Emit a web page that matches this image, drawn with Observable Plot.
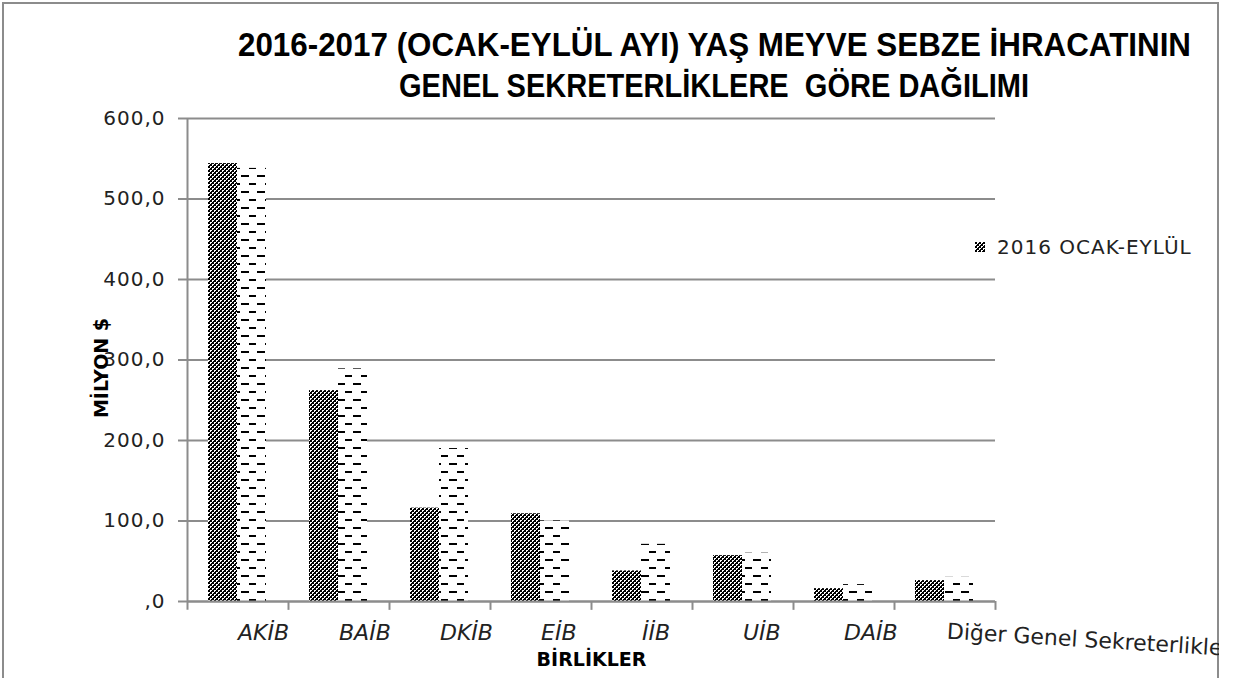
<!DOCTYPE html>
<html><head><meta charset="utf-8">
<script src="https://cdn.jsdelivr.net/npm/d3@7"></script>
<script src="https://cdn.jsdelivr.net/npm/@observablehq/plot@0.6"></script>
<style>
html,body{margin:0;padding:0;background:#fff;width:1233px;height:678px;overflow:hidden;}
#clip{position:absolute;left:0;top:0;width:1219px;height:678px;overflow:hidden;}
#border{position:absolute;left:2px;top:2px;width:1217px;height:720px;border:2px solid #8c8c8c;box-sizing:border-box;}
.title{position:absolute;left:714px;white-space:pre;font-family:"Liberation Sans Narrow","Liberation Sans",Arial,sans-serif;font-weight:bold;font-size:34px;line-height:34px;color:#000;transform-origin:0 0;}
#chart{position:absolute;left:0;top:110px;width:1233px;}
#chart svg{max-width:none !important;}
#chart g[aria-label="y-axis tick label"] text{letter-spacing:1px;}
#legend{position:absolute;left:975px;top:237px;height:20px;display:flex;align-items:center;font-family:"DejaVu Sans",sans-serif;font-size:20px;line-height:20px;letter-spacing:1px;color:#222;white-space:nowrap;}
#legend svg{margin-right:12px;}
</style></head>
<body>
<div id="clip">
  <div id="border"></div>
  <div class="title" id="t1" style="top:27px">2016-2017 (OCAK-EYLÜL AYI) YAŞ MEYVE SEBZE İHRACATININ</div>
  <div class="title" id="t2" style="top:68px">GENEL SEKRETERLİKLERE  GÖRE DAĞILIMI</div>
  <div id="chart"></div>
  <div id="legend"></div>
</div>
<script>
const categories = ["AKİB","BAİB","DKİB","EİB","İİB","UİB","DAİB","Diğer Genel Sekreterlikler"];
const values2016 = [544, 262, 116, 109, 38, 57, 16, 26];
const values2017 = [538, 289, 190, 100, 71, 60, 21, 30];
const seriesNames = ["2016 OCAK-EYLÜL", "2017 OCAK-EYLÜL"];
const yTicks = [0, 100, 200, 300, 400, 500, 600];
const yTitle = "MİLYON $";
const xTitle = "BİRLİKLER";

const data2016 = categories.map((c, i) => ({cat: c, series: seriesNames[0], value: values2016[i]}));
const data2017 = categories.map((c, i) => ({cat: c, series: seriesNames[1], value: values2017[i]}));
const yMax = yTicks[yTicks.length - 1];
const fmt = d => d === 0 ? ",0" : d.toFixed(1).replace(".", ",");
const axisColor = "#8c8c8c";
const half = 50.5;

const plot = Plot.plot({
  width: 1233,
  height: 568,
  marginLeft: 187,
  marginRight: 238,
  marginTop: 8,
  marginBottom: 77,
  style: {fontFamily: "DejaVu Sans, sans-serif", fontSize: "20px", color: "#222", background: "transparent", overflow: "visible", maxWidth: "none"},
  x: {type: "band", domain: categories, padding: 0, axis: null},
  y: {domain: [0, yMax], axis: null},
  marks: [
    Plot.gridY(yTicks, {stroke: axisColor, strokeWidth: 2, strokeOpacity: 1}),
    Plot.axisY(yTicks, {tickSize: 9, tickPadding: 13, tickFormat: fmt, stroke: axisColor, fill: "#222", strokeWidth: 2, fontSize: 20, label: null}),
    Plot.barY(data2016, {x: "cat", y: "value", fill: "url(#pat2016)", insetLeft: 21, insetRight: 51}),
    Plot.barY(data2017, {x: "cat", y: "value", fill: "url(#pat2017)", insetLeft: 50, insetRight: 22}),
    Plot.ruleY([0], {stroke: axisColor, strokeWidth: 2}),
    Plot.ruleX([categories[0]], {dx: -half, y1: -11, y2: yMax, stroke: axisColor, strokeWidth: 2}),
    Plot.ruleX(categories.slice(1), {dx: -half, y1: -11, y2: 0, stroke: axisColor, strokeWidth: 2}),
    Plot.ruleX([categories[categories.length - 1]], {dx: half, y1: -11, y2: 0, stroke: axisColor, strokeWidth: 2}),
    Plot.text(categories.slice(0, 7), {x: d => d, frameAnchor: "bottom", lineAnchor: "middle", dy: 31, dx: 0, textAnchor: "start", fontStyle: "italic", fontSize: 22, fill: "#222"}),
    Plot.text(categories.slice(7), {x: d => d, frameAnchor: "bottom", lineAnchor: "middle", dy: 30, dx: 2, textAnchor: "start", rotate: 3.5, fontSize: 22, fill: "#222"}),
    Plot.text([xTitle], {frameAnchor: "bottom", lineAnchor: "middle", textAnchor: "middle", dy: 58, fontWeight: "bold", fontSize: 19, fill: "#000"}),
    Plot.text([yTitle], {frameAnchor: "left", textAnchor: "middle", lineAnchor: "middle", dx: -86, dy: 8, rotate: -90, fontWeight: "bold", fontSize: 19, fill: "#000"})
  ]
});

const ns = "http://www.w3.org/2000/svg";
const defs = document.createElementNS(ns, "defs");
defs.innerHTML = `
<pattern id="pat2016" patternUnits="userSpaceOnUse" width="4" height="4">
  <rect width="4" height="4" fill="#fff"/>
  <rect x="0" y="0" width="2" height="2" fill="#000"/>
  <rect x="2" y="2" width="2" height="2" fill="#000"/>
  <rect x="3" y="1" width="1" height="1" fill="#000"/>
  <rect x="1" y="3" width="1" height="1" fill="#000"/>
</pattern>
<pattern id="pat2017" patternUnits="userSpaceOnUse" width="16" height="16">
  <rect width="16" height="16" fill="#fff"/>
  <rect x="1" y="1" width="8" height="2" fill="#000"/>
  <rect x="9" y="9" width="8" height="2" fill="#000"/>
</pattern>`;
plot.prepend(defs);
document.getElementById("chart").append(plot);

const legend = document.getElementById("legend");
legend.innerHTML = `<svg width="10" height="10"><rect width="10" height="10" fill="url(#pat2016)"/></svg><span>${seriesNames[0]}</span>`;

// fit the title lines to the reference widths, centred on x = 714
[["t1", 953], ["t2", 630]].forEach(([id, w]) => {
  const el = document.getElementById(id);
  const actual = el.getBoundingClientRect().width;
  const s = w / actual;
  el.style.left = (714 - w / 2) + "px";
  el.style.transform = `scaleX(${s})`;
});
</script>
</body></html>
